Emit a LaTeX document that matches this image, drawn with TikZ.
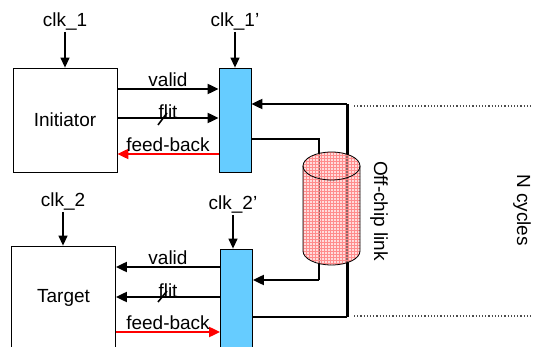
\documentclass[tikz,border=0pt]{standalone}
\usepackage{fontspec}
\setmainfont{Liberation Sans}
\usetikzlibrary{arrows.meta,positioning,patterns}

\definecolor{regblue}{RGB}{102,204,255}

\begin{document}
\begin{tikzpicture}[
  x=1pt, y=-1pt,
  font=\fontsize{19}{22}\selectfont,
  block/.style={rectangle, draw, thick, fill=white, minimum width=104pt, minimum height=104pt, inner sep=0pt},
  reg/.style={rectangle, draw, thick, fill=regblue, minimum width=32pt, minimum height=104pt, inner sep=0pt},
  lbl/.style={inner sep=1pt},
  clkarrow/.style={line width=1.3pt, -{Triangle[length=10pt,width=9pt]}},
  sig/.style={line width=2pt, -{Triangle[length=11pt,width=10pt]}},
  fb/.style={sig, red},
  link/.style={line width=2pt},
  dotline/.style={line width=1.2pt, dotted, black!70},
]
\useasboundingbox (0,0) rectangle (533,347);
\clip (0,0) rectangle (533,347);

% initiator side
\node[block] (ini)  at (65,120)  {Initiator};
\node[reg]   (reg1) at (235,120) {};
\node[lbl]   (clk1)  at (65,22)  {clk\_1};
\node[lbl]   (clk1r) at (235,22) {clk\_1'};
\draw[clkarrow] (clk1.south) -- (ini.north);
\draw[clkarrow] (clk1r.south) -- (reg1.north);

\draw[sig] ([yshift=31pt]ini.east) -- ([yshift=31pt]reg1.west)
  node[lbl, midway, above] (v1) {valid};
\draw[sig] ([yshift=2pt]ini.east) -- ([yshift=2pt]reg1.west)
  node[lbl, midway, above, yshift=-3pt] (f1) {flit};
\draw[line width=1.6pt] (158,125) -- (167,113);
\draw[fb] ([yshift=-34pt]reg1.west) -- ([yshift=-34pt]ini.east)
  node[lbl, midway, above, black] (b1) {feed-back};

% target side
\node[block] (tgt)  at (63.5,298) {Target};
\node[reg]   (reg2) at (236.5,301) {};
\node[lbl]   (clk2)  at (63,202)  {clk\_2};
\node[lbl]   (clk2r) at (233,205) {clk\_2'};
\draw[clkarrow] (clk2.south) -- (clk2.south |- tgt.north);
\draw[clkarrow] (clk2r.south) -- (clk2r.south |- reg2.north);

\draw[sig] ([yshift=34pt]reg2.west) -- ([yshift=34pt]reg2.west -| tgt.east)
  node[lbl, midway, above] (v2) {valid};
\draw[sig] ([yshift=4pt]reg2.west) -- ([yshift=4pt]reg2.west -| tgt.east)
  node[lbl, midway, above, yshift=-3pt] (f2) {flit};
\draw[line width=1.6pt] (158,302) -- (167,291);
\draw[fb] ([yshift=-31pt]reg2.west -| tgt.east) -- ([yshift=-31pt]reg2.west)
  node[lbl, midway, above, black] (b2) {feed-back};

% off-chip link
\coordinate (c1) at (319,139);
\coordinate (c2) at (319,280);
\coordinate (c3) at (347,317);
\coordinate (c4) at (347,104);
\draw[link] ([yshift=-19pt]reg1.east) -- (c1) -- (c2);
\draw[link, -{Triangle[length=11pt,width=10pt]}] (c2) -- (c2 -| reg2.east);
\draw[link] ([yshift=-16pt]reg2.east) -- (c3);
\draw[line width=3pt] (c3) -- (c4);
\draw[link, -{Triangle[length=11pt,width=10pt]}] (c4) -- (c4 -| reg1.east);

\fill[red!25, fill opacity=0.55] (303,251) arc[start angle=180, end angle=360, x radius=28.5pt, y radius=14pt]
  -- (360,166) arc[start angle=0, end angle=180, x radius=28.5pt, y radius=14pt] -- cycle;
\path[pattern=grid, pattern color=red!45] (303,251) arc[start angle=180, end angle=360, x radius=28.5pt, y radius=14pt]
  -- (360,166) arc[start angle=0, end angle=180, x radius=28.5pt, y radius=14pt] -- cycle;
\draw[thick] (303,166) -- (303,251) arc[start angle=180, end angle=360, x radius=28.5pt, y radius=14pt] -- (360,166);
\draw[thick] (331.5,166) ellipse[x radius=28.5pt, y radius=14pt];
\node[lbl, rotate=-90] (offchip) at (379,211) {Off-chip link};

% cycle marks
\coordinate (d1) at (354,106);
\coordinate (d2) at (531,106);
\coordinate (d3) at (354,316);
\coordinate (d4) at (531,316);
\draw[dotline] (d1) -- (d2);
\draw[dotline] (d3) -- (d4);
\node[lbl, rotate=-90] (ncyc) at (522,210) {N cycles};
\end{tikzpicture}
\end{document}
